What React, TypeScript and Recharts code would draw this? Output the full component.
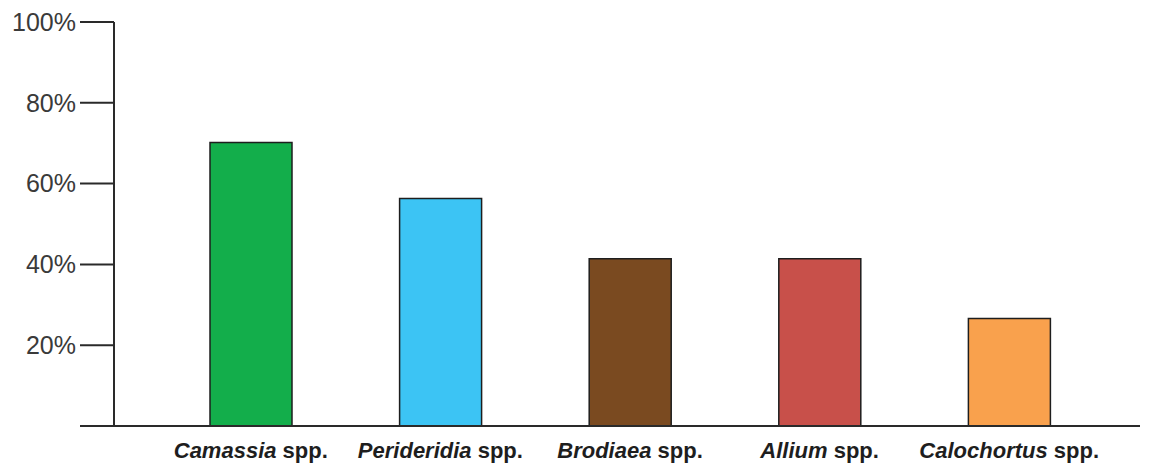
import { BarChart, Bar, XAxis, YAxis, Cell, ReferenceLine } from "recharts";

const genera = ["Camassia", "Perideridia", "Brodiaea", "Allium", "Calochortus"];
const shares = [70.2, 56.3, 41.4, 41.4, 26.6];
const barColors = ["#13ae4b", "#3cc4f4", "#7a4a20", "#c8504a", "#f9a14d"];
const yTicks = [20, 40, 60, 80, 100];

const data = genera.map((g, i) => ({ genus: g, share: shares[i] }));

const FONT = '"Liberation Sans", Arial, Helvetica, sans-serif';
const INK = "#2a2a2a";

const GenusTick = ({ x, y, payload }: any) => (
  <text
    x={x}
    y={y + 24}
    textAnchor="middle"
    style={{ fontFamily: FONT, fontSize: 22, fontWeight: 700, fill: "#1e1e1e" }}
  >
    <tspan fontStyle="italic">{payload.value}</tspan>
    <tspan> spp.</tspan>
  </text>
);

// bottom axis runs a bit past the y axis on the left
const BaseLine = (props: any) => (
  <line
    x1={props.x1 - 34}
    x2={props.x2}
    y1={props.y1}
    y2={props.y2}
    stroke={INK}
    strokeWidth={2}
  />
);

export default function App() {
  return (
    <div style={{ position: "absolute", left: 0, top: 0, background: "#fff" }}>
      <BarChart
        width={1154}
        height={464}
        data={data}
        margin={{ top: 22, right: 14, bottom: 0, left: 0 }}
      >
        <XAxis
          dataKey="genus"
          axisLine={false}
          tickLine={false}
          interval={0}
          height={38}
          padding={{ left: 42, right: 36 }}
          tick={<GenusTick />}
        />
        <YAxis
          width={114}
          domain={[0, 100]}
          ticks={yTicks}
          tickSize={34}
          tickMargin={4}
          tickFormatter={(v: number) => `${v}%`}
          axisLine={{ stroke: INK, strokeWidth: 2 }}
          tickLine={{ stroke: INK, strokeWidth: 2 }}
          tick={{ fontFamily: FONT, fontSize: 25, fill: "#3a3a3a" }}
        />
        <ReferenceLine y={0} shape={<BaseLine />} />
        <Bar
          dataKey="share"
          barSize={82}
          stroke="#1e1e1e"
          strokeWidth={1.5}
          isAnimationActive={false}
        >
          {data.map((d, i) => (
            <Cell key={d.genus} fill={barColors[i]} />
          ))}
        </Bar>
      </BarChart>
    </div>
  );
}
